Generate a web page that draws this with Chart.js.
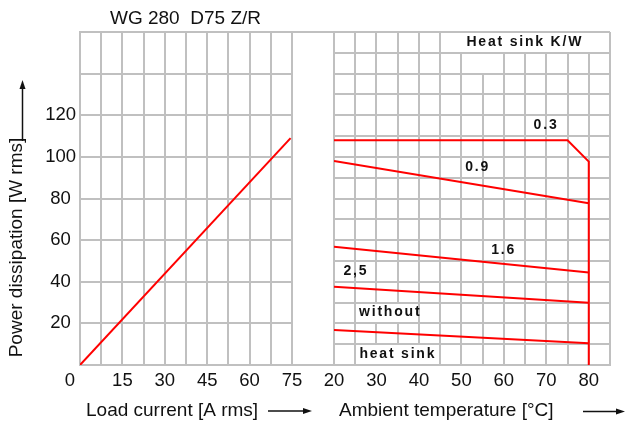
<!DOCTYPE html>
<html>
<head>
<meta charset="utf-8">
<script src="https://cdn.jsdelivr.net/npm/chart.js@4"></script>
<style>
  html, body { margin: 0; background: #fff; }
  #wrap { position: relative; width: 626px; height: 425px; }
  canvas { position: absolute; left: 0; top: 0; }
</style>
</head>
<body>
<div id="wrap">
  <canvas id="chart-load" width="626" height="425"></canvas>
  <canvas id="chart-temp" width="626" height="425"></canvas>
</div>
<script>
// values
const loadX = [0, 74.5];
const loadY = [0, 109];

const k03X = [20, 75, 80, 80];
const k03Y = [108, 108, 97.7, 0];
const k09X = [20, 80];
const k09Y = [98, 77.7];
const k16X = [20, 80];
const k16Y = [56.8, 44.5];
const k25X = [20, 80];
const k25Y = [37.6, 29.9];
const bareX = [20, 80];
const bareY = [16.8, 10.4];

const powerTicks = [20, 40, 60, 80, 100, 120];
const loadTicks = [15, 30, 45, 60, 75];
const tempTicks = [20, 30, 40, 50, 60, 70, 80];

// notes inside the temperature panel, in data units
const notes = [
  { text: 'Heat sink K/W', x: 64.7, y: 155.2 },
  { text: '0.3', x: 69.7, y: 115.3 },
  { text: '0.9', x: 53.6, y: 95.1 },
  { text: '1.6', x: 59.7, y: 55.3 },
  { text: '2,5', x: 24.9, y: 45.2 },
  { text: 'without', x: 33.0, y: 25.6 },
  { text: 'heat sink', x: 34.8, y: 5.3 }
];
// grid cells merged behind labels [x1, x2, y1, y2]
const blanks = [
  [45, 85, 150, 160],
  [50, 60, 140, 150],
  [25, 40, 20, 30],
  [25, 45, 0, 10]
];

const FONT = '"Liberation Sans", Arial, sans-serif';
const GRID = '#c0c0c0';
const INK = '#111';
const RED = '#ff0000';

function pts(xs, ys) {
  return xs.map((x, i) => ({ x, y: ys[i] }));
}

function redLine(xs, ys) {
  return {
    data: pts(xs, ys),
    borderColor: RED,
    borderWidth: 2,
    pointRadius: 0,
    fill: false,
    tension: 0
  };
}

function arrow(ctx, x1, y1, x2, y2) {
  const a = Math.atan2(y2 - y1, x2 - x1);
  ctx.save();
  ctx.strokeStyle = INK;
  ctx.fillStyle = INK;
  ctx.lineWidth = 1.5;
  ctx.beginPath();
  ctx.moveTo(x1, y1);
  ctx.lineTo(x2 - 6 * Math.cos(a), y2 - 6 * Math.sin(a));
  ctx.stroke();
  ctx.translate(x2, y2);
  ctx.rotate(a);
  ctx.beginPath();
  ctx.moveTo(0, 0);
  ctx.lineTo(-9, -3);
  ctx.lineTo(-9, 3);
  ctx.closePath();
  ctx.fill();
  ctx.restore();
}

function yScale(labels, width) {
  return {
    type: 'linear',
    min: 0,
    max: 160,
    afterFit: s => { s.width = width; },
    ticks: {
      stepSize: 10,
      display: labels,
      padding: 4,
      crossAlign: 'center',
      color: INK,
      font: { family: FONT, size: 18.5 },
      callback: v => powerTicks.includes(v) ? String(v) : ''
    },
    grid: { color: GRID, lineWidth: 2, drawTicks: false },
    border: { color: GRID, width: 2 }
  };
}

function xScale(min, max, step, shown) {
  return {
    type: 'linear',
    min,
    max,
    afterFit: s => { s.height = 60; },
    ticks: {
      stepSize: step,
      autoSkip: false,
      maxRotation: 0,
      padding: 5,
      color: INK,
      font: { family: FONT, size: 18.5 },
      callback: v => shown.includes(v) ? String(v) : ''
    },
    grid: { color: GRID, lineWidth: 2, drawTicks: false },
    border: { color: GRID, width: 2 }
  };
}

const baseOptions = {
  responsive: false,
  animation: false,
  devicePixelRatio: 1,
  events: [],
  plugins: { legend: { display: false }, tooltip: { enabled: false } }
};

// titles, axis names and arrows for the whole figure
const frameText = {
  id: 'frameText',
  afterDraw(chart) {
    const ctx = chart.ctx;
    const x0 = chart.scales.x.getPixelForValue(0);
    ctx.save();
    ctx.fillStyle = INK;
    ctx.font = '19px ' + FONT;
    ctx.textBaseline = 'middle';
    ctx.textAlign = 'left';
    ctx.fillText('WG 280  D75 Z/R', 110, 19);
    ctx.fillText('Load current [A rms]', 86, 411);
    ctx.fillText('Ambient temperature [°C]', 339, 411);
    ctx.font = '18.5px ' + FONT;
    ctx.textAlign = 'center';
    ctx.fillText('0', x0 - 10, 381);
    ctx.font = '19px ' + FONT;
    ctx.translate(17, 247.5);
    ctx.rotate(-Math.PI / 2);
    ctx.fillText('Power dissipation [W rms]', 0, 0);
    ctx.restore();
    arrow(ctx, 22.5, 141, 22.5, 80);
    arrow(ctx, 268, 411, 312, 411);
    arrow(ctx, 583, 411.5, 625, 411.5);
  }
};

const leftChart = new Chart(document.getElementById('chart-load'), {
  type: 'line',
  data: { datasets: [redLine(loadX, loadY)] },
  options: {
    ...baseOptions,
    layout: { padding: { left: 0, top: 32, right: 334, bottom: 0 } },
    scales: {
      x: xScale(0, 75, 7.5, loadTicks),
      y: yScale(true, 80)
    }
  },
  plugins: [frameText]
});

// merged cells, the frame across the gap, and the curve notes
const tempDecor = {
  id: 'tempDecor',
  beforeDatasetsDraw(chart) {
    const { ctx, scales: { x, y }, chartArea } = chart;
    ctx.save();
    ctx.fillStyle = '#fff';
    blanks.forEach(([x1, x2, y1, y2]) => {
      const l = Math.round(x.getPixelForValue(x1)) + 1;
      const r = Math.round(x.getPixelForValue(x2)) - 1;
      const t = Math.round(y.getPixelForValue(y2)) + 1;
      const b = Math.round(y.getPixelForValue(y1)) - 1;
      ctx.fillRect(l, t, r - l, b - t);
    });
    ctx.strokeStyle = GRID;
    ctx.lineWidth = 2;
    const from = leftChart.chartArea.right;
    [chartArea.top, chartArea.bottom].forEach(py => {
      const yy = Math.round(py);
      ctx.beginPath();
      ctx.moveTo(from, yy);
      ctx.lineTo(chartArea.left, yy);
      ctx.stroke();
    });
    ctx.restore();
  },
  afterDraw(chart) {
    const { ctx, scales: { x, y } } = chart;
    ctx.save();
    ctx.fillStyle = INK;
    ctx.font = 'bold 14px ' + FONT;
    ctx.letterSpacing = '1.8px';
    ctx.textAlign = 'center';
    ctx.textBaseline = 'middle';
    notes.forEach(n => {
      ctx.fillText(n.text, x.getPixelForValue(n.x) + 1, y.getPixelForValue(n.y));
    });
    ctx.restore();
  }
};

new Chart(document.getElementById('chart-temp'), {
  type: 'line',
  data: {
    datasets: [
      redLine(k03X, k03Y),
      redLine(k09X, k09Y),
      redLine(k16X, k16Y),
      redLine(k25X, k25Y),
      redLine(bareX, bareY)
    ]
  },
  options: {
    ...baseOptions,
    layout: { padding: { left: 0, top: 32, right: 16, bottom: 0 } },
    scales: {
      x: xScale(20, 85, 5, tempTicks),
      y: yScale(false, 334)
    }
  },
  plugins: [tempDecor]
});
</script>
</body>
</html>
